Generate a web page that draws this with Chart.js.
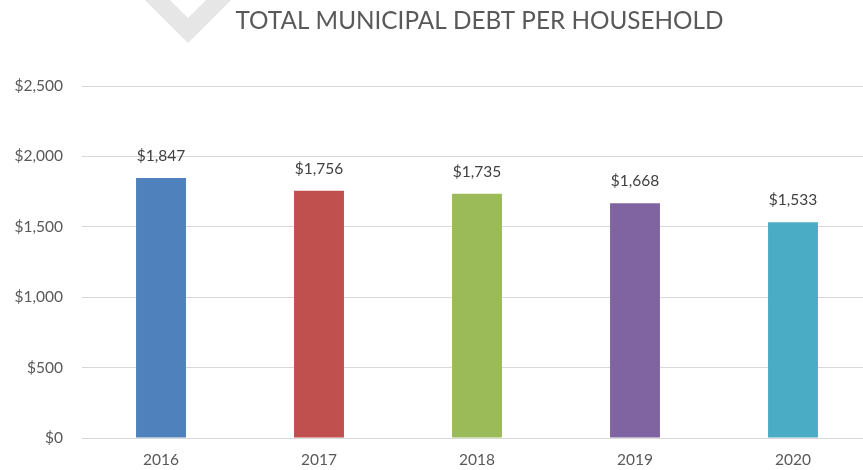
<!DOCTYPE html>
<html>
<head>
<meta charset="utf-8">
<script src="https://cdn.jsdelivr.net/npm/chart.js@4"></script>
<style>
html,body{margin:0;padding:0;background:#fff;overflow:hidden;width:863px;height:470px;}
#wrap{position:absolute;left:0;top:0;width:880px;height:470px;}
</style>
</head>
<body>
<div id="wrap"><canvas id="c" width="880" height="470"></canvas></div>
<script>
const categories = ["2016", "2017", "2018", "2019", "2020"];
const debtPerHousehold = [1847, 1756, 1735, 1668, 1533];
const barColors = ["#4F81BD", "#C0504D", "#9BBB59", "#8064A2", "#4BACC6"];
const yTickValues = [0, 500, 1000, 1500, 2000, 2500];
const chartTitle = "TOTAL MUNICIPAL DEBT PER HOUSEHOLD";

const FONT = "Lato, 'Open Sans', 'Liberation Sans', sans-serif";
const fmt = v => "$" + v.toLocaleString("en-US");

const decorPlugin = {
  id: "decor",
  beforeDraw(chart) {
    const ctx = chart.ctx;
    ctx.save();
    ctx.fillStyle = "#fff";
    ctx.fillRect(0, 0, chart.width, chart.height);
    // light grey chevron watermark
    ctx.fillStyle = "#e6e6e6";
    ctx.beginPath();
    ctx.moveTo(145, 0); ctx.lineTo(188, 43); ctx.lineTo(231, 0);
    ctx.lineTo(206, 0); ctx.lineTo(188, 18); ctx.lineTo(170, 0);
    ctx.closePath();
    ctx.fill();
    // title
    ctx.fillStyle = "#595959";
    ctx.font = "24.3px " + FONT;
    ctx.textAlign = "center";
    ctx.textBaseline = "middle";
    ctx.fillText(chartTitle, 479.5, 21);
    ctx.restore();
  },
  afterDatasetsDraw(chart) {
    const ctx = chart.ctx;
    const meta = chart.getDatasetMeta(0);
    ctx.save();
    ctx.fillStyle = "#404040";
    ctx.font = "15.5px " + FONT;
    ctx.textAlign = "center";
    ctx.textBaseline = "middle";
    meta.data.forEach((bar, i) => {
      ctx.fillText(fmt(chart.data.datasets[0].data[i]), bar.x, bar.y - 22);
    });
    ctx.restore();
  }
};

new Chart(document.getElementById("c"), {
  type: "bar",
  data: {
    labels: categories,
    datasets: [{
      data: debtPerHousehold,
      backgroundColor: barColors,
      borderWidth: 0,
      barPercentage: 0.316,
      categoryPercentage: 1
    }]
  },
  options: {
    responsive: false,
    animation: false,
    devicePixelRatio: 1,
    layout: { padding: { top: 86, right: 8, left: 0, bottom: 0 } },
    plugins: { legend: { display: false }, title: { display: false }, tooltip: { enabled: false } },
    scales: {
      x: {
        grid: { display: false },
        border: { color: "#d9d9d9", width: 1 },
        ticks: { color: "#595959", font: { family: FONT, size: 15.5 }, padding: 5 },
        afterFit(s) { s.height = 32; }
      },
      y: {
        min: 0, max: 2500,
        afterBuildTicks(s) { s.ticks = yTickValues.map(v => ({ value: v })); },
        grid: { color: "#d9d9d9", drawTicks: false },
        border: { display: false },
        ticks: { color: "#595959", font: { family: FONT, size: 15.5 }, padding: 19, callback: v => fmt(v) },
        afterFit(s) { s.width = 82; }
      }
    }
  },
  plugins: [decorPlugin]
});
</script>
</body>
</html>
